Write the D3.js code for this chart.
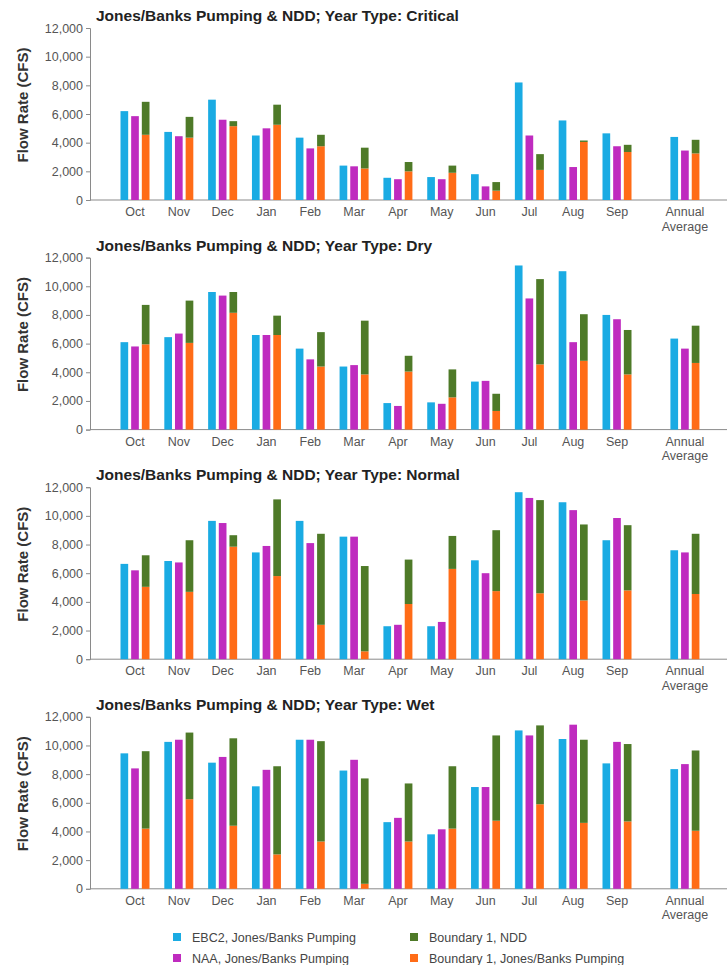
<!DOCTYPE html>
<html>
<head>
<meta charset="utf-8">
<script src="https://cdn.jsdelivr.net/npm/d3@7"></script>
<style>
  body { margin: 0; background: #fff; }
  svg { display: block; font-family: "Liberation Sans", Arial, sans-serif; }
  .title { font-weight: bold; font-size: 15.5px; fill: #222; }
  .ytitle { font-weight: bold; font-size: 15px; fill: #333; }
  .tick text { font-size: 12.5px; fill: #555; }
  .xlab { font-size: 12.5px; fill: #555; }
  .legend text { font-size: 12.5px; fill: #444; }
</style>
</head>
<body>
<svg width="727" height="965"></svg>
<script>
let months = ["Oct", "Nov", "Dec", "Jan", "Feb", "Mar", "Apr", "May", "Jun", "Jul", "Aug", "Sep", "Annual Average"];
let yearTypes = ["Critical", "Dry", "Normal", "Wet"];
let yTicks = [0, 2000, 4000, 6000, 8000, 10000, 12000];

// Critical years
let critEBC2 = [6200, 4750, 7000, 4500, 4350, 2400, 1550, 1600, 1800, 8200, 5550, 4650, 4400];
let critNAA = [5850, 4450, 5600, 5000, 3600, 2350, 1450, 1450, 950, 4500, 2300, 3750, 3450];
let critB1Pump = [4550, 4350, 5150, 5250, 3750, 2200, 2000, 1900, 650, 2100, 4050, 3350, 3250];
let critB1NDD = [2300, 1450, 350, 1400, 800, 1450, 650, 500, 600, 1100, 100, 500, 950];

// Dry years
let dryEBC2 = [6100, 6450, 9600, 6600, 5650, 4400, 1850, 1900, 3350, 11450, 11050, 8000, 6350];
let dryNAA = [5800, 6700, 9350, 6600, 4900, 4500, 1650, 1800, 3400, 9150, 6100, 7700, 5650];
let dryB1Pump = [5950, 6050, 8150, 6600, 4400, 3850, 4050, 2250, 1300, 4550, 4800, 3850, 4650];
let dryB1NDD = [2750, 2950, 1450, 1350, 2400, 3750, 1100, 1950, 1200, 5950, 3250, 3100, 2600];

// Normal years
let normEBC2 = [6650, 6850, 9650, 7450, 9650, 8550, 2300, 2300, 6900, 11650, 10950, 8300, 7600];
let normNAA = [6200, 6750, 9500, 7900, 8100, 8550, 2400, 2600, 6000, 11250, 10400, 9850, 7450];
let normB1Pump = [5050, 4700, 7850, 5800, 2400, 550, 3850, 6300, 4750, 4600, 4100, 4800, 4550];
let normB1NDD = [2200, 3600, 800, 5350, 6350, 5950, 3100, 2300, 4250, 6500, 5300, 4550, 4200];

// Wet years
let wetEBC2 = [9450, 10250, 8800, 7150, 10400, 8250, 4650, 3800, 7100, 11050, 10450, 8750, 8350];
let wetNAA = [8400, 10400, 9200, 8300, 10400, 9000, 4950, 4150, 7100, 10700, 11450, 10250, 8700];
let wetB1Pump = [4200, 6250, 4400, 2400, 3300, 350, 3300, 4200, 4750, 5900, 4600, 4700, 4050];
let wetB1NDD = [5400, 4650, 6100, 6150, 7000, 7350, 4050, 4350, 5950, 5500, 5800, 5400, 5600];

let seriesNames = ["EBC2, Jones/Banks Pumping", "NAA, Jones/Banks Pumping", "Boundary 1, NDD", "Boundary 1, Jones/Banks Pumping"];
let seriesColors = ["#1aabe3", "#bf2bbf", "#4e7a28", "#ff6c17"];

let panels = [
  { type: yearTypes[0], ebc2: critEBC2, naa: critNAA, pump: critB1Pump, ndd: critB1NDD },
  { type: yearTypes[1], ebc2: dryEBC2, naa: dryNAA, pump: dryB1Pump, ndd: dryB1NDD },
  { type: yearTypes[2], ebc2: normEBC2, naa: normNAA, pump: normB1Pump, ndd: normB1NDD },
  { type: yearTypes[3], ebc2: wetEBC2, naa: wetNAA, pump: wetB1Pump, ndd: wetB1NDD }
];

let svg = d3.select('svg');

let axisX = 90;
let plotH = 172;
let panelStep = 229.6;
let firstTop = 28;

// month slots; the annual average sits a little further out
let slot = d3.scaleLinear().domain([0, 11]).range([135, 617]);
let slotIndex = (i) => i === months.length - 1 ? i + 0.55 : i;

let sub = d3.scaleBand().domain([0, 1, 2]).range([-14.5, 14.5]).paddingInner(0.28);

let y = d3.scaleLinear().domain([0, 12000]).range([plotH, 0]);

panels.forEach((p, k) => {
  let top = firstTop + k * panelStep;
  let g = svg.append('g').attr('transform', `translate(0,${top})`);

  g.append('text')
    .attr('class', 'title')
    .attr('x', 96)
    .attr('y', -7)
    .text('Jones/Banks Pumping & NDD; Year Type: ' + p.type);

  g.append('text')
    .attr('class', 'ytitle')
    .attr('transform', `translate(22,${plotH / 2 - 9}) rotate(-90)`)
    .attr('text-anchor', 'middle')
    .attr('dominant-baseline', 'central')
    .text('Flow Rate (CFS)');

  let yAxis = g.append('g')
    .attr('transform', `translate(${axisX},0)`)
    .call(d3.axisLeft(y).tickValues(yTicks).tickFormat(d3.format(',')).tickSize(4).tickPadding(3));
  yAxis.selectAll('path, line').attr('stroke', '#8a8a8a');

  g.append('line')
    .attr('x1', axisX).attr('x2', 727)
    .attr('y1', y(0)).attr('y2', y(0))
    .attr('stroke', '#8a8a8a');

  let rows = months.map((m, i) => ({
    m: m,
    cx: slot(slotIndex(i)),
    ebc2: p.ebc2[i],
    naa: p.naa[i],
    pump: p.pump[i],
    ndd: p.ndd[i]
  }));

  let grp = g.append('g').selectAll('g')
    .data(rows)
    .enter()
    .append('g')
    .attr('transform', d => `translate(${d.cx},0)`);

  grp.append('rect')
    .attr('x', sub(0)).attr('width', sub.bandwidth())
    .attr('y', d => y(d.ebc2)).attr('height', d => y(0) - y(d.ebc2))
    .attr('fill', seriesColors[0]);

  grp.append('rect')
    .attr('x', sub(1)).attr('width', sub.bandwidth())
    .attr('y', d => y(d.naa)).attr('height', d => y(0) - y(d.naa))
    .attr('fill', seriesColors[1]);

  // stacked: pumping at the bottom, NDD on top
  grp.append('rect')
    .attr('x', sub(2)).attr('width', sub.bandwidth())
    .attr('y', d => y(d.pump)).attr('height', d => y(0) - y(d.pump))
    .attr('fill', seriesColors[3]);

  grp.append('rect')
    .attr('x', sub(2)).attr('width', sub.bandwidth())
    .attr('y', d => y(d.pump + d.ndd)).attr('height', d => y(d.pump) - y(d.pump + d.ndd))
    .attr('fill', seriesColors[2]);

  grp.each(function (d) {
    let t = d3.select(this).append('text')
      .attr('class', 'xlab')
      .attr('text-anchor', 'middle')
      .attr('y', plotH + 16);
    let words = d.m === 'Annual Average' ? ['Annual', 'Average'] : [d.m];
    words.forEach((w, j) => {
      t.append('tspan').attr('x', 0).attr('dy', j === 0 ? 0 : 14.5).text(w);
    });
  });
});

// legend
let legendItems = [
  { name: seriesNames[0], color: seriesColors[0], x: 173, y: 937 },
  { name: seriesNames[1], color: seriesColors[1], x: 173, y: 958 },
  { name: seriesNames[2], color: seriesColors[2], x: 410, y: 937 },
  { name: seriesNames[3], color: seriesColors[3], x: 410, y: 958 }
];

let lg = svg.append('g').attr('class', 'legend')
  .selectAll('g')
  .data(legendItems)
  .enter()
  .append('g')
  .attr('transform', d => `translate(${d.x},${d.y})`);

lg.append('rect')
  .attr('x', 0).attr('y', -4)
  .attr('width', 8).attr('height', 8)
  .attr('fill', d => d.color);

lg.append('text')
  .attr('x', 19)
  .attr('y', 4.5)
  .text(d => d.name);
</script>
</body>
</html>
